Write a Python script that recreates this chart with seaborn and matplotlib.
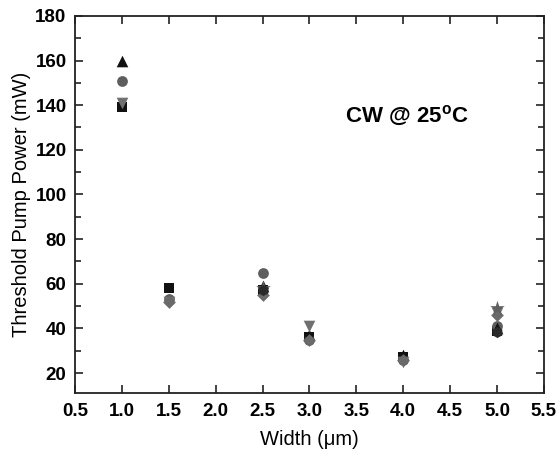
import pandas as pd
import seaborn as sns
from matplotlib import pyplot as plt
from matplotlib.ticker import MultipleLocator, FormatStrFormatter

sns.set_style('ticks')
plt.rcParams['font.family'] = ['Liberation Sans', 'DejaVu Sans']
plt.rcParams['mathtext.fontset'] = 'custom'
plt.rcParams['mathtext.rm'] = 'Liberation Sans'
plt.rcParams['mathtext.bf'] = 'Liberation Sans:bold'
plt.rcParams['text.color'] = 'black'
plt.rcParams['axes.labelcolor'] = 'black'
plt.rcParams['xtick.color'] = 'black'
plt.rcParams['ytick.color'] = 'black'

# valores (largura em um, potência em mW)
sq_x = [1.0, 1.5, 2.5, 3.0, 4.0, 5.0]
sq_y = [139, 58, 57, 36, 27, 39]
ci_x = [1.0, 1.5, 2.5, 3.0, 4.0, 5.0]
ci_y = [151, 53, 65, 35, 26, 41]
tu_x = [1.0, 2.5, 3.0, 4.0, 5.0]
tu_y = [160, 59, 37, 28, 40]
td_x = [1.0, 1.5, 2.5, 3.0, 4.0, 5.0]
td_y = [141, 52, 56, 41, 25, 47]
di_x = [1.5, 2.5, 3.0, 4.0, 5.0]
di_y = [52, 55, 35, 26, 46]
st_x = [2.5, 5.0]
st_y = [58, 49]
hx_x = [2.5, 5.0]
hx_y = [57, 38.5]

series = {
    'A': (sq_x, sq_y),
    'B': (ci_x, ci_y),
    'C': (tu_x, tu_y),
    'D': (td_x, td_y),
    'E': (di_x, di_y),
    'F': (st_x, st_y),
    'G': (hx_x, hx_y),
}
markers = {'A': 's', 'B': 'o', 'C': '^', 'D': 'v', 'E': 'D', 'F': '*', 'G': 'h'}
palette = {'A': '#111111', 'B': '#5e5e5e', 'C': '#111111', 'D': '#707070',
           'E': '#6a6a6a', 'F': '#606060', 'G': '#2a2a2a'}
sizes = {'A': 55, 'B': 60, 'C': 70, 'D': 70, 'E': 42, 'F': 120, 'G': 65}

rows = []
for nome, (xs, ys) in series.items():
    for x, y in zip(xs, ys):
        rows.append({'serie': nome, 'largura': x, 'potencia': y})
dados = pd.DataFrame(rows)

fig = plt.figure(figsize=(5.59, 4.53), dpi=100)
ax = fig.add_axes([0.134, 0.132, 0.839, 0.833])

for nome in series:
    sub = dados[dados.serie == nome]
    sns.scatterplot(data=sub, x='largura', y='potencia', marker=markers[nome],
                    color=palette[nome], s=sizes[nome], linewidth=0, ax=ax,
                    legend=False, zorder=3)

ax.set_xlim(0.5, 5.5)
ax.set_ylim(11, 180)
ax.xaxis.set_major_locator(MultipleLocator(0.5))
ax.xaxis.set_major_formatter(FormatStrFormatter('%.1f'))
ax.yaxis.set_major_locator(MultipleLocator(20))
ax.yaxis.set_minor_locator(MultipleLocator(10))
ax.set_yticks(range(20, 181, 20))

ax.tick_params(which='both', direction='in', top=True, right=True, width=1.2,
               labelsize=13.5, color='#222222')
ax.tick_params(which='major', length=6)
ax.tick_params(which='minor', length=4)
ax.tick_params(axis='x', pad=7)
ax.tick_params(axis='y', pad=6)
for lab in ax.get_xticklabels() + ax.get_yticklabels():
    lab.set_fontweight('bold')
for sp in ax.spines.values():
    sp.set_linewidth(1.3)
    sp.set_color('#222222')

ax.set_xlabel('Width (\u03bcm)', fontsize=14.5, labelpad=7)
ax.set_ylabel('Threshold Pump Power (mW)', fontsize=14.5, labelpad=3)
ax.text(3.38, 135, 'CW @ 25$^\\mathbf{o}$C', fontsize=16, fontweight='bold',
        va='center', ha='left')

fig.savefig('out.png', dpi=100)
